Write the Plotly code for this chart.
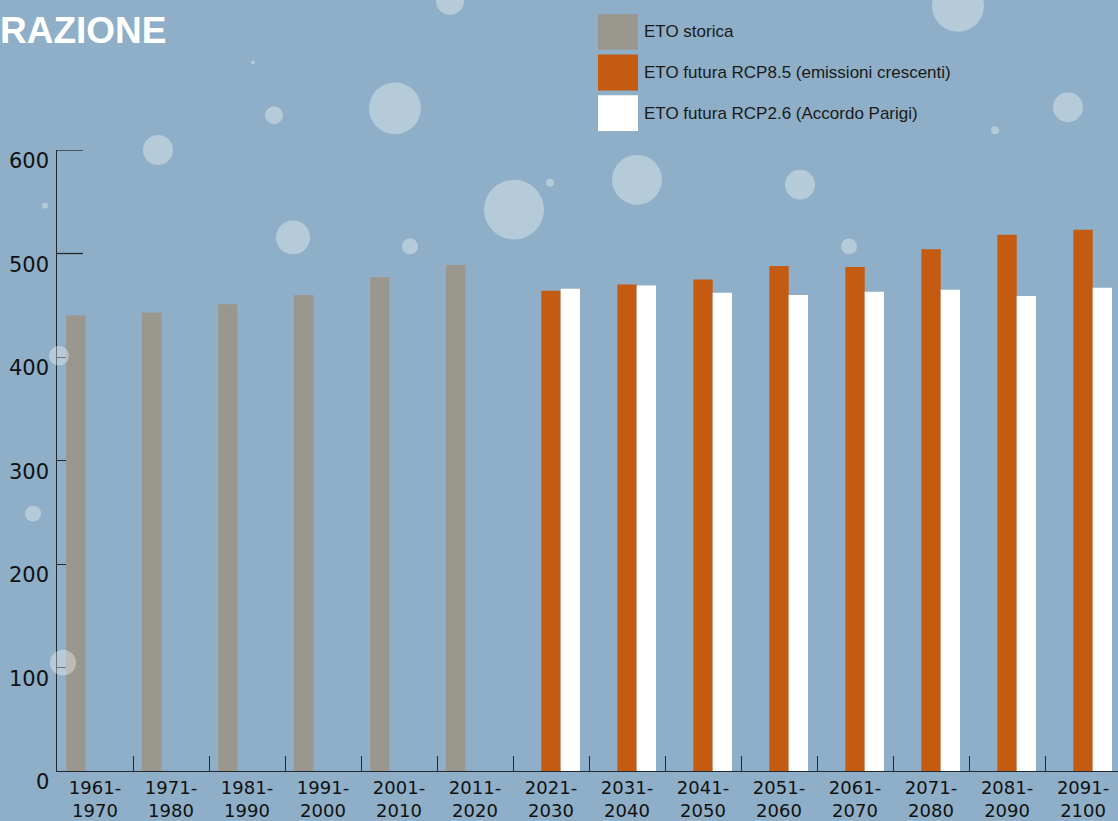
import plotly.graph_objects as go

# ---- data ----
decades = ["1961-<br>1970", "1971-<br>1980", "1981-<br>1990", "1991-<br>2000", "2001-<br>2010",
           "2011-<br>2020", "2021-<br>2030", "2031-<br>2040", "2041-<br>2050", "2051-<br>2060",
           "2061-<br>2070", "2071-<br>2080", "2081-<br>2090", "2091-<br>2100"]
eto_storica = [440, 443, 451, 460, 477, 489, None, None, None, None, None, None, None, None]
eto_rcp85 = [None, None, None, None, None, None, 464, 470, 475, 488, 487, 504, 518, 523]
eto_rcp26 = [None, None, None, None, None, None, 466, 469, 462, 460, 463, 465, 459, 467]
series_names = ["ETO storica", "ETO futura RCP8.5 (emissioni crescenti)", "ETO futura RCP2.6 (Accordo Parigi)"]
y_ticks = [0, 100, 200, 300, 400, 500, 600]
title_text = "RAZIONE"

# ---- style ----
BG = "#8eafc7"
C_GRAY = "#9a978e"
C_ORANGE = "#c55a11"
C_WHITE = "#ffffff"
AXC = "#222a30"
W, H = 1118, 821
L, R, T, B = 57, 0, 150, 46
PW, PH = W - L - R, H - T - B


def px(x):
    return (x - L) / PW


def py(y):
    return (H - B - y) / PH


fig = go.Figure()
for vals, col, name in zip([eto_storica, eto_rcp85, eto_rcp26], [C_GRAY, C_ORANGE, C_WHITE], series_names):
    fig.add_trace(go.Bar(x=decades, y=vals, name=name, marker=dict(color=col, line=dict(width=0)),
                         showlegend=False, hoverinfo="x+y"))

shapes = []
annotations = []

# decorative bubbles (pixel centre x, y, radius)
bubbles = [(450, 0, 14), (958, 5, 26), (395, 108, 26), (274, 115, 9), (158, 150, 15), (253, 62, 2),
           (1068, 107, 15), (995, 130, 4), (637, 180, 25), (800, 185, 15), (550, 183, 4),
           (514, 210, 30), (293, 238, 17), (410, 247, 8), (45, 206, 3), (849, 247, 8),
           (59, 357, 10), (33, 516, 8), (63, 666, 13)]
for cx, cy, r in bubbles:
    shapes.append(dict(type="circle", xref="paper", yref="paper", x0=px(cx - r), x1=px(cx + r),
                       y0=py(cy + r), y1=py(cy - r), fillcolor="rgba(255,255,255,0.35)",
                       line=dict(width=0), layer="above"))

# long ticks at 600 and 500
for v in (600, 500):
    shapes.append(dict(type="line", xref="paper", yref="y", x0=0, x1=px(83), y0=v, y1=v,
                       line=dict(color=AXC, width=1.3), layer="above"))

# y tick labels (shifted slightly below ticks as in the reference)
for v in y_ticks:
    annotations.append(dict(xref="paper", yref="y", x=0, y=v, text=str(v), showarrow=False,
                            xanchor="right", yanchor="middle", xshift=-6, yshift=-11,
                            font=dict(family="DejaVu Sans", size=21, color="#111111")))

# legend (manual, large swatches)
leg_y = [(13, 49), (54, 90), (95, 131)]
for (y0, y1), col, name in zip(leg_y, [C_GRAY, C_ORANGE, C_WHITE], series_names):
    shapes.append(dict(type="rect", xref="paper", yref="paper", x0=px(598), x1=px(638),
                       y0=py(y1), y1=py(y0), fillcolor=col, line=dict(width=0)))
    annotations.append(dict(xref="paper", yref="paper", x=px(642), y=py((y0 + y1) / 2), text=name,
                            showarrow=False, xanchor="left", yanchor="middle",
                            font=dict(family="Liberation Sans", size=17, color="#1a1a1a")))

# title
annotations.append(dict(xref="paper", yref="paper", x=px(-2), y=py(30), text="<b>" + title_text + "</b>",
                        showarrow=False, xanchor="left", yanchor="middle",
                        font=dict(family="Liberation Sans", size=37, color="#ffffff")))

fig.update_layout(
    width=W, height=H,
    margin=dict(l=L, r=R, t=T, b=B, pad=0),
    paper_bgcolor=BG, plot_bgcolor=BG,
    barmode="group", bargap=0.237, bargroupgap=0,
    shapes=shapes, annotations=annotations,
    showlegend=False,
    xaxis=dict(range=[-0.5, 13.46], showgrid=False, zeroline=False, showline=True, linecolor=AXC,
               linewidth=1.3, ticks="inside", tickson="boundaries", ticklen=15, tickcolor=AXC,
               tickwidth=1.3, tickfont=dict(family="DejaVu Sans", size=18, color="#111111"),
               fixedrange=True),
    yaxis=dict(range=[0, 600], showgrid=False, zeroline=False, showline=True, linecolor=AXC,
               linewidth=1.3, ticks="inside", tickvals=y_ticks, ticklen=9, tickcolor=AXC, tickwidth=1.3,
               showticklabels=False, fixedrange=True),
)

fig.write_html("out.html", config={"displayModeBar": False},
               post_script="document.body.style.margin='0';document.body.style.background='" + BG + "';")
